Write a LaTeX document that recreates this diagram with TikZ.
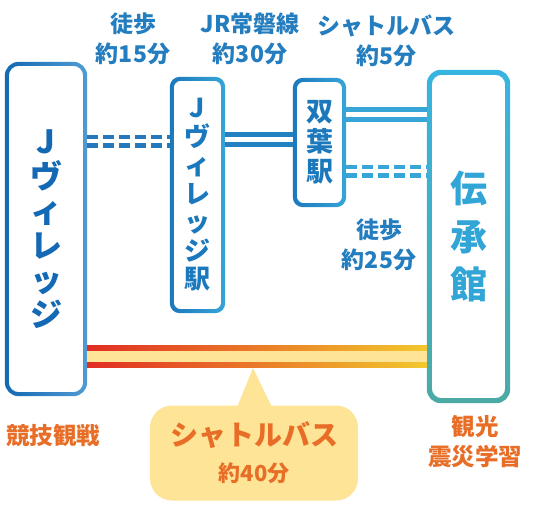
\documentclass[tikz,border=0pt]{standalone}
\usepackage{fontspec}
\setmainfont{Noto Sans CJK JP}
\definecolor{jvblue}{RGB}{20,105,180}
\definecolor{jvlight}{RGB}{80,155,210}
\definecolor{stblue}{RGB}{28,120,188}
\definecolor{stlight}{RGB}{55,165,215}
\definecolor{dkblue}{RGB}{55,180,225}
\definecolor{dkteal}{RGB}{75,170,165}
\definecolor{dktext}{RGB}{50,165,215}
\definecolor{labelblue}{RGB}{35,125,190}
\definecolor{busred}{RGB}{225,45,35}
\definecolor{busorange}{RGB}{238,125,40}
\definecolor{busyellow}{RGB}{242,200,45}
\definecolor{buscream}{RGB}{253,228,150}
\definecolor{textorange}{RGB}{232,110,40}

\begin{document}
\begin{tikzpicture}[
    x=1pt, y=-1pt,
    box/.style={inner sep=0pt, align=center},
    time/.style={font=\bfseries\fontsize{23}{30}\selectfont, text=labelblue,
        align=center, inner sep=0pt},
    purpose/.style={font=\bfseries\fontsize{23.5}{30}\selectfont,
        text=textorange, align=center, inner sep=0pt},
    rail/.style={line width=5pt, double=white, double distance=5pt},
    walk/.style={line width=4.5pt, double=white, double distance=4pt,
        dash pattern=on 11pt off 5pt},
]
    \useasboundingbox (0,0) rectangle (535,506);

    %% the places, as tall boxes with their names set one glyph a line
    \node[box, minimum width=82pt, minimum height=334pt, text=jvblue,
        font=\bfseries\fontsize{32}{34.5}\selectfont] (jv) at (46,229)
        {J\\ヴ\\ィ\\レ\\ッ\\ジ};
    \node[box, minimum width=55pt, minimum height=240pt, text=stblue,
        font=\bfseries\fontsize{26}{28.5}\selectfont] (jvs) at (197.5,195)
        {J\\ヴ\\ィ\\レ\\ッ\\ジ\\駅};
    \node[box, minimum width=53pt, minimum height=129pt, text=stblue,
        font=\bfseries\fontsize{27}{30}\selectfont] (fut) at (319.5,142.5)
        {双\\葉\\駅};
    \node[box, minimum width=83pt, minimum height=333pt, text=dktext,
        font=\bfseries\fontsize{37}{48}\selectfont] (dk) at (468.5,236.5)
        {伝\\承\\館};

    %% their frames, shaded like the original
    \shade[left color=jvblue, right color=jvlight, even odd rule,
        rounded corners=14pt] (jv.north west) rectangle (jv.south east)
        [rounded corners=10pt] ([shift={(4pt,-4pt)}]jv.north west)
        rectangle ([shift={(-4pt,4pt)}]jv.south east);
    \shade[left color=stblue, right color=stlight, even odd rule,
        rounded corners=10pt] ([yshift=-2pt]jvs.north west)
        rectangle ([yshift=2pt]jvs.south east)
        [rounded corners=7pt] ([shift={(4pt,-6pt)}]jvs.north west)
        rectangle ([shift={(-4pt,6pt)}]jvs.south east);
    \shade[left color=stblue, right color=stlight, even odd rule,
        rounded corners=10pt] (fut.north west) rectangle (fut.south east)
        [rounded corners=7pt] ([shift={(4pt,-4pt)}]fut.north west)
        rectangle ([shift={(-4pt,4pt)}]fut.south east);
    \shade[top color=dkblue, bottom color=dkteal, even odd rule,
        rounded corners=14pt] (dk.north west) rectangle (dk.south east)
        [rounded corners=10pt] ([shift={(5pt,-5pt)}]dk.north west)
        rectangle ([shift={(-5pt,5pt)}]dk.south east);

    %% heights of the links
    \coordinate (walk1) at (0,141);
    \coordinate (rail1) at (0,139);
    \coordinate (rail2) at (0,114);
    \coordinate (walk2) at (0,171);
    \coordinate (bustop) at (0,345);
    \coordinate (busbot) at (0,367);
    \coordinate (creamtop) at (0,351);
    \coordinate (creambot) at (0,362);

    %% the links
    \draw[walk, draw=jvblue!70!jvlight] (jv.east |- walk1) -- (jvs.west |- walk1);
    \draw[rail, draw=stblue!80!stlight] (jvs.east |- rail1) -- (fut.west |- rail1);
    \draw[rail, draw=stlight] (fut.east |- rail2) -- (dk.west |- rail2);
    \draw[walk, draw=stlight] (fut.east |- walk2) -- (dk.west |- walk2);

    %% the shuttle bus, straight through
    \shade[left color=busred, middle color=busorange, right color=busyellow]
        (jv.east |- bustop) rectangle (dk.west |- busbot);
    \fill[buscream] (jv.east |- creamtop) rectangle (dk.west |- creambot);

    %% its callout
    \node[fill=buscream, rounded corners=22pt, minimum width=208pt,
        minimum height=95pt, inner sep=0pt, align=center, text=textorange,
        font=\bfseries\fontsize{28}{36}\selectfont] (callout) at (254,453)
        {シャトルバス\\{\fontsize{22}{36}\selectfont 約40分}};
    \coordinate (tip) at (253,368);
    \fill[buscream] ([shift={(-17pt,-2pt)}]callout.north) -- (tip)
        -- ([shift={(18pt,-2pt)}]callout.north) -- cycle;

    %% times and purposes
    \node[time] (walk15) at (133,39) {徒歩\\約15分};
    \node[time] (jr30) at (250,39) {JR常磐線\\約30分};
    \node[time] (bus5) at (386,41) {シャトルバス\\約5分};
    \node[time] (walk25) at (379,245) {徒歩\\約25分};
    \node[purpose] (sport) at (53,436) {競技観戦};
    \node[purpose] (visit) at (475,442) {観光\\震災学習};
\end{tikzpicture}
\end{document}
